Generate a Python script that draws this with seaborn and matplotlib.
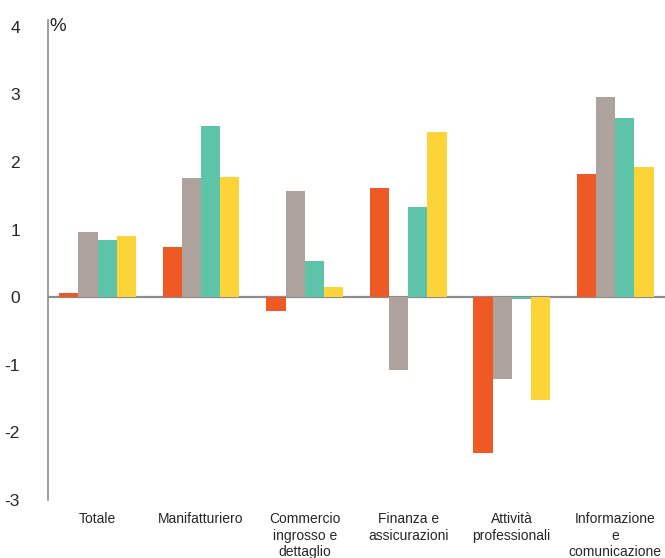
import pandas as pd
import matplotlib
matplotlib.use("Agg")
import matplotlib.pyplot as plt
import seaborn as sns

# categories and the four series (values in %)
categories = ["Totale", "Manifatturiero", "Commercio\ningrosso e\ndettaglio",
              "Finanza e\nassicurazioni", "Attività\nprofessionali",
              "Informazione\ne\ncomunicazione"]
series_names = ["Serie 1", "Serie 2", "Serie 3", "Serie 4"]
serie_1 = [0.06, 0.74, -0.20, 1.62, -2.31, 1.83]
serie_2 = [0.96, 1.76, 1.57, -1.07, -1.21, 2.96]
serie_3 = [0.85, 2.53, 0.53, 1.33, -0.03, 2.65]
serie_4 = [0.91, 1.78, 0.15, 2.45, -1.52, 1.92]
colors = ["#EF5A24", "#ADA29C", "#5EC4A9", "#FDD437"]

rows = []
for name, vals in zip(series_names, [serie_1, serie_2, serie_3, serie_4]):
    for cat, v in zip(categories, vals):
        rows.append({"settore": cat, "serie": name, "valore": v})
df = pd.DataFrame(rows)

sns.set_style("white")
plt.rcParams["font.family"] = ["Liberation Sans Narrow", "Liberation Sans", "DejaVu Sans"]

fig = plt.figure(figsize=(6.65, 5.58), dpi=100)
ax = fig.add_axes([0.072, 0.104, 0.928, 0.86])

sns.barplot(data=df, x="settore", y="valore", hue="serie", order=categories,
            hue_order=series_names, palette=colors, width=0.74,
            saturation=1, linewidth=0, ax=ax)
ax.legend_.remove()

ax.axhline(0, color="#8c8c8c", lw=1.6, zorder=0)
ax.set_xlim(-0.48, 5.48)
ax.set_ylim(-3, 4.1)
ax.set_yticks(range(-3, 5))
ax.set_yticklabels([str(t) for t in range(-3, 5)], fontsize=12.5,
                   family=["Liberation Sans", "DejaVu Sans"])
ax.tick_params(axis="y", length=0, pad=20)
ax.tick_params(axis="x", length=0, pad=9, labelsize=10)
for lab in ax.get_xticklabels():
    lab.set_linespacing(1.2)
ax.set_xlabel("")
ax.set_ylabel("")
for s in ["top", "right", "bottom"]:
    ax.spines[s].set_visible(False)
ax.spines["left"].set_color("#8c8c8c")
ax.spines["left"].set_linewidth(1.2)
ax.text(0.002, 4.0, "%", transform=ax.get_yaxis_transform(), fontsize=13.5,
        va="center", ha="left", family=["Liberation Sans", "DejaVu Sans"])

fig.savefig("out.png", dpi=100)
